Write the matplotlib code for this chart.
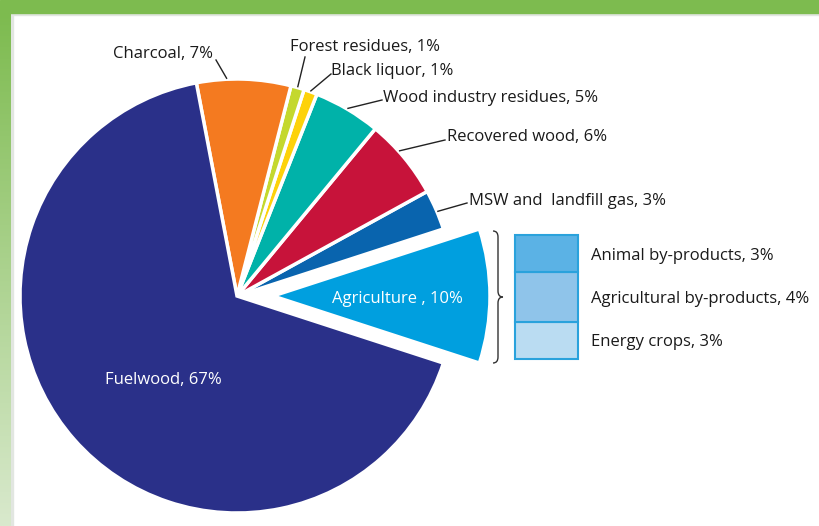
import numpy as np
import matplotlib.pyplot as plt
from matplotlib.patches import Rectangle, PathPatch
from matplotlib.path import Path

plt.rcParams['font.family'] = ['Open Sans', 'DejaVu Sans']

# bioenergy sources, shares in %
sources = ["Agriculture", "MSW and  landfill gas", "Recovered wood",
           "Wood industry residues", "Black liquor", "Forest residues",
           "Charcoal", "Fuelwood"]
shares = [10, 3, 6, 5, 1, 1, 7, 67]
colors = ["#009fdf", "#0964ae", "#c7133a", "#00b2a9", "#fdd20a",
          "#c4d82e", "#f47a20", "#2a3089"]

# breakdown of the agriculture slice
agri_parts = ["Animal by-products", "Agricultural by-products", "Energy crops"]
agri_shares = [3, 4, 3]
agri_colors = ["#5bb2e5", "#8fc4ea", "#badcf2"]

W, H = 819, 526
fig = plt.figure(figsize=(W / 100, H / 100), dpi=100)
ax = fig.add_axes([0, 0, 1, 1])

cx, cy, R = 237, 230, 217
# explode is in data units here, i.e. pixels
wedges, _ = ax.pie(shares, colors=colors, startangle=-18, counterclock=True,
                   center=(cx, cy), radius=R, explode=[36] + [0] * 7,
                   wedgeprops=dict(edgecolor="white", linewidth=2.5))
ax.set_xlim(0, W)
ax.set_ylim(0, H)
ax.set_aspect("equal")
ax.axis("off")

# frame: green top bar and fading strip on the left
ax.add_patch(Rectangle((0, H - 13), W, 13, color="#7dbb4f", zorder=5))
ax.add_patch(Rectangle((11, H - 15), W, 2, color="#e2e6e1", zorder=4))
ax.add_patch(Rectangle((11, 0), 1.5, H - 13, color="#e2e6e1", zorder=4))
grad = np.linspace(0, 1, 256)[:, None]
top = np.array([0x7d, 0xbb, 0x4f]) / 255
bot = np.array([0xd9, 0xe9, 0xcd]) / 255
img = top + (bot - top) * grad[..., None]
ax.imshow(img, extent=(0, 11, 0, H - 13), aspect="auto", zorder=5)

FS = 12

# outside labels with leader lines: (text x, text y, ha, line end x, line end y, position in wedge)
labels = {
    "Charcoal": (213, 472, "right", 216, 466, 0.68),
    "Forest residues": (290, 479, "left", 305, 469, 0.5),
    "Black liquor": (331, 455, "left", 331, 452, 0.5),
    "Wood industry residues": (383, 428, "left", 382, 426, 0.5),
    "Recovered wood": (447, 389, "left", 445, 386, 0.6),
    "MSW and  landfill gas": (469, 325, "left", 467, 323, 0.45),
}
for w, name, val in zip(wedges, sources, shares):
    if name not in labels:
        continue
    tx, ty, ha, lx, ly, f = labels[name]
    ang = np.deg2rad(w.theta1 + f * (w.theta2 - w.theta1))
    px, py = cx + (R + 1) * np.cos(ang), cy + (R + 1) * np.sin(ang)
    ax.plot([px, lx], [py, ly], color="#222222", lw=1, zorder=3)
    ax.text(tx, ty, f"{name}, {val}%", ha=ha, va="center", fontsize=FS,
            color="#1a1a1a")

ax.text(397, 227, f"Agriculture , {shares[0]}%", ha="center", va="center",
        fontsize=FS, color="white")
ax.text(105, 146, f"Fuelwood, {shares[-1]}%", ha="left", va="center",
        fontsize=FS, color="white")

# stacked breakdown box
unit = 12.4
bottoms = np.cumsum([0] + agri_shares[::-1][:-1])
for part, val, col, b in zip(agri_parts[::-1], agri_shares[::-1],
                             agri_colors[::-1], bottoms):
    y0 = 167 + b * unit
    ax.bar(546.5, val * unit, width=63, bottom=y0, color=col,
           edgecolor="#2aa2dc", linewidth=1.5, zorder=3)
    ax.text(591, y0 + val * unit / 2 - 2, f"{part}, {val}%", ha="left",
            va="center", fontsize=FS, color="#1a1a1a")

# right-pointing curly brace drawn as two mirrored halves
for sgn in (1, -1):
    ym = 229
    pts = [(493, ym + sgn * 66), (498, ym + sgn * 66), (498, ym + sgn * 60),
           (498, ym + sgn * 6), (498, ym), (503, ym)]
    codes = [Path.MOVETO, Path.CURVE3, Path.CURVE3, Path.LINETO,
             Path.CURVE3, Path.CURVE3]
    ax.add_patch(PathPatch(Path(pts, codes), fill=False, edgecolor="#333333",
                           lw=1, zorder=3))

fig.savefig("out.png", dpi=100, facecolor="white")
